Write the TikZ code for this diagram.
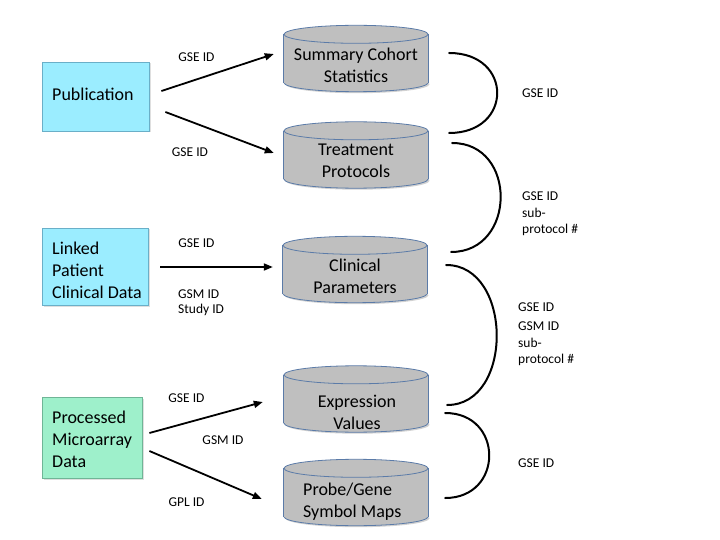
\documentclass[tikz,border=0pt]{standalone}
\usepackage{fontspec}
\setmainfont{Carlito}
\usetikzlibrary{arrows.meta,calc,shadows}
\definecolor{boxcyan}{HTML}{9BEDFF}
\definecolor{boxcyanline}{HTML}{6AAFC8}
\definecolor{boxmint}{HTML}{9EF0CB}
\definecolor{boxmintline}{HTML}{6FB596}
\definecolor{cylgray}{HTML}{BFBFBF}
\definecolor{cylline}{HTML}{5B7BA8}
\newcommand\drawcyl[1]{%
  \fill[black,opacity=0.18] ($(#1.south)+(1.5,-7.5)$) ellipse [x radius=72, y radius=9];
  \draw[cylline, fill=cylgray, line width=0.8pt] ($(#1.south)+(0,-9)$) ellipse [x radius=72, y radius=9];
  \fill[cylgray] ($(#1.north west)+(0,9)$) rectangle ($(#1.south east)+(0,-9)$);
  \draw[cylline, line width=0.8pt] ($(#1.north west)+(0,9)$) -- ($(#1.south west)+(0,-9)$);
  \draw[cylline, line width=0.8pt] ($(#1.north east)+(0,9)$) -- ($(#1.south east)+(0,-9)$);
  \draw[cylline, fill=cylgray, line width=0.8pt] ($(#1.north)+(0,9)$) ellipse [x radius=72, y radius=9];
}
\begin{document}
\begin{tikzpicture}[x=1pt,y=-1pt,
  srcbox/.style={line width=0.8pt, inner sep=0pt,
    drop shadow={shadow xshift=1.5pt, shadow yshift=-1.5pt, opacity=0.25}},
  cyanbox/.style={srcbox, draw=boxcyanline, fill=boxcyan},
  mintbox/.style={srcbox, draw=boxmintline, fill=boxmint},
  boxtext/.style={font=\fontsize{18}{22}\selectfont, align=left, inner sep=0pt, anchor=west},
  cylnode/.style={minimum width=144pt, minimum height=66pt, inner sep=0pt},
  cyltext/.style={font=\fontsize{18}{22}\selectfont, align=center, inner sep=0pt},
  lbl/.style={font=\fontsize{13.5}{16.5}\selectfont, inner sep=0pt},
  link/.style={line width=1.8pt, -{Triangle[length=9pt,width=7pt]}},
  bendline/.style={line width=2pt, line cap=round},
]
\fill[white] (0,0) rectangle (720,540);
\useasboundingbox (0,0) rectangle (720,540);

% source boxes
\node[cyanbox, minimum width=107pt, minimum height=69pt] (pub) at (95.5,96.5) {};
\node[boxtext] (pubt) at (52,94) {Publication};
\node[cyanbox, minimum width=106pt, minimum height=77pt] (linked) at (95,266.5) {};
\node[boxtext] (linkedt) at (52,270) {Linked\\Patient\\Clinical Data};
\node[mintbox, minimum width=100pt, minimum height=81pt] (proc) at (92,438) {};
\node[boxtext] (proct) at (52,439) {Processed\\Microarray\\Data};

% cylinders
\node[cylnode] (summ) at (356,58.5) {};
\drawcyl{summ}
\node[cyltext] (summt) at (356,65.5) {Summary Cohort\\Statistics};
\node[cylnode] (treat) at (356,155) {};
\drawcyl{treat}
\node[cyltext] (treatt) at (356,160.5) {Treatment\\Protocols};
\node[cylnode] (clin) at (355,269.5) {};
\drawcyl{clin}
\node[cyltext] (clint) at (355,276) {Clinical\\Parameters};
\node[cylnode] (expr) at (356,399) {};
\drawcyl{expr}
\node[cyltext] (exprt) at (357,412) {Expression\\Values};
\node[cylnode] (probe) at (356,492.5) {};
\drawcyl{probe}
\node[boxtext] (probet) at (303,502) {Probe/Gene\\Symbol Maps};

% arrows
\draw[link] ([xshift=12pt,yshift=5.5pt]pub.east) -- ([xshift=-10pt,yshift=4.5pt]summ.west);
\draw[link] ([xshift=16pt,yshift=-15.5pt]pub.east) -- ([xshift=-10pt,yshift=2pt]treat.west);
\draw[link] ([xshift=12pt,yshift=-0.5pt]linked.east) -- ([xshift=-10pt,yshift=2.5pt]clin.west);
\draw[link] ([xshift=7pt,yshift=5pt]proc.east) -- ([xshift=-21pt,yshift=-3pt]expr.west);
\draw[link] ([xshift=7pt,yshift=-13pt]proc.east) -- ([xshift=-22pt,yshift=-6.5pt]probe.west);

% arrow labels
\node[lbl] (l1) at (196.5,57) {GSE ID};
\node[lbl] (l2) at (190,152) {GSE ID};
\node[lbl] (l3) at (196.5,243) {GSE ID};
\node[lbl, anchor=west, align=left, font=\fontsize{13.5}{15}\selectfont] (l3b) at (178,302.5) {GSM ID\\Study ID};
\node[lbl] (l4) at (186.5,398) {GSE ID};
\node[lbl] (l4b) at (223,440) {GSM ID};
\node[lbl] (l5) at (186.5,502) {GPL ID};

% join arcs
\draw[bendline] ([xshift=21pt,yshift=5.5pt]summ.east) .. controls +(64,0) and +(64,0) .. ([xshift=21pt,yshift=22pt]treat.east);
\draw[bendline] ([xshift=24pt,yshift=12pt]treat.east) .. controls +(65.3,0) and +(65.3,0) .. ([xshift=24pt,yshift=17.5pt]clin.east);
\draw[bendline] ([xshift=19pt,yshift=4.5pt]clin.east) .. controls +(66.7,0) and +(66.7,0) .. ([xshift=19pt,yshift=-6pt]expr.east);
\draw[bendline] ([xshift=17pt,yshift=-14pt]expr.east) .. controls +(58.7,0) and +(58.7,0) .. ([xshift=17pt,yshift=-5.5pt]probe.east);

% arc labels
\node[lbl, anchor=west] (m1) at (522,93) {GSE ID};
\node[lbl, anchor=west, align=left] (m2) at (522,214) {GSE ID\\sub-\\protocol \#};
\node[lbl, anchor=west, align=left] (m3) at (518,334) {GSE ID\\[3pt]GSM ID\\sub-\\protocol \#};
\node[lbl, anchor=west] (m4) at (518,463) {GSE ID};
\end{tikzpicture}
\end{document}
